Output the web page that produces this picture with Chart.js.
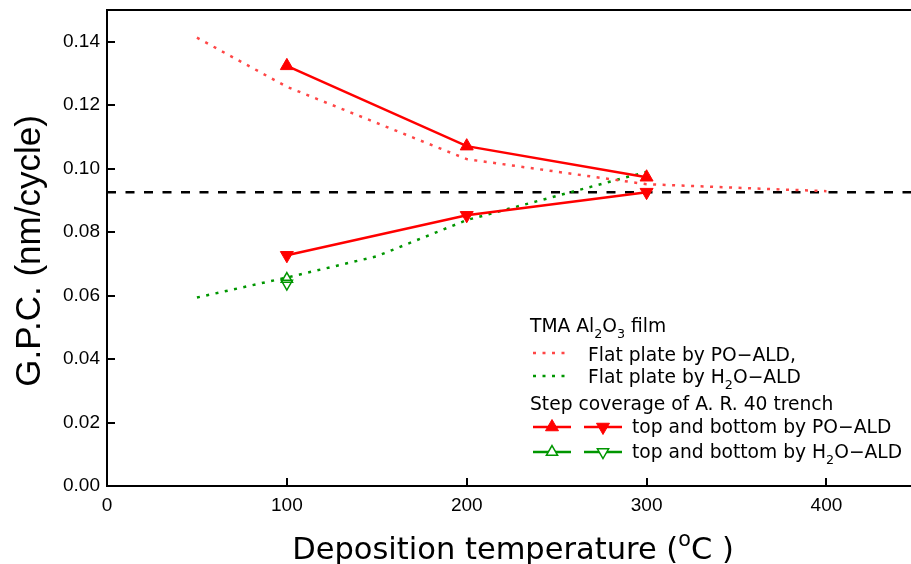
<!DOCTYPE html>
<html><head><meta charset="utf-8">
<script src="https://cdn.jsdelivr.net/npm/chart.js@4.4.1/dist/chart.umd.min.js"></script>
<style>html,body{margin:0;padding:0;background:#fff;} #wrap{width:911px;height:564px;position:relative}</style>
</head><body><div id="wrap"><canvas id="c" width="911" height="564"></canvas></div>
<script>
// ---- data ----
const xTickValues = [0, 100, 200, 300, 400];
const yTickValues = [0, 0.02, 0.04, 0.06, 0.08, 0.10, 0.12, 0.14];
const flatPO_T = [50, 100, 200, 300, 400];
const flatPO_G = [0.1413, 0.1258, 0.1030, 0.0951, 0.0929];
const flatH2O_T = [50, 100, 150, 200, 300];
const flatH2O_G = [0.0594, 0.0657, 0.0724, 0.0838, 0.0990];
const trenchT = [100, 200, 300];
const poTop = [0.1324, 0.1071, 0.0973];
const poBottom = [0.0727, 0.0853, 0.0926];
const h2oT = [100];
const h2oTop = [0.0652];
const h2oBottom = [0.0638];
const refT = [0, 447];
const refG = [0.0926, 0.0926];

const RED = 'rgb(255,0,0)';
const RED_DOT = 'rgb(255,70,70)';
const GREEN = 'rgb(0,150,0)';
const SANS = '"Liberation Sans", Arial, sans-serif';
const WIDE = '"DejaVu Sans", Verdana, sans-serif';

const pts = (xs, ys) => xs.map((x, i) => ({x, y: ys[i]}));

function rich(ctx, parts, x, y, size, family) {
  let cx = x;
  for (const [t, m] of parts) {
    const s = m ? size * 0.68 : size;
    ctx.font = `${s}px ${family}`;
    const dy = m === 'sub' ? size * 0.3 : (m === 'sup' ? -size * 0.42 : 0);
    ctx.fillText(t, cx, y + dy);
    cx += ctx.measureText(t).width;
  }
  return cx - x;
}
function richWidth(ctx, parts, size, family) {
  let w = 0;
  for (const [t, m] of parts) {
    const s = m ? size * 0.68 : size;
    ctx.font = `${s}px ${family}`;
    w += ctx.measureText(t).width;
  }
  return w;
}

const decor = {
  id: 'decor',
  afterDraw(chart) {
    const {ctx, chartArea: a, scales: {x, y}} = chart;
    ctx.save();
    ctx.strokeStyle = '#000';
    ctx.lineWidth = 2;
    // top frame line
    ctx.beginPath(); ctx.moveTo(a.left - 1, a.top); ctx.lineTo(a.right, a.top); ctx.stroke();
    // inside ticks
    ctx.beginPath();
    yTickValues.forEach(v => { const py = Math.round(y.getPixelForValue(v)); ctx.moveTo(a.left, py); ctx.lineTo(a.left + 8, py); });
    xTickValues.forEach(v => { const px = Math.round(x.getPixelForValue(v)); ctx.moveTo(px, a.bottom); ctx.lineTo(px, a.bottom - 8); });
    ctx.stroke();

    ctx.fillStyle = '#000';
    // y title
    ctx.save();
    ctx.translate(30, 251);
    ctx.rotate(-Math.PI / 2);
    ctx.textAlign = 'center'; ctx.textBaseline = 'middle';
    ctx.font = `35px ${SANS}`;
    ctx.fillText('G.P.C. (nm/cycle)', 0, 0);
    ctx.restore();

    // x title
    ctx.textAlign = 'left'; ctx.textBaseline = 'alphabetic';
    const xt = [['Deposition temperature (', null], ['o', 'sup'], ['C )', null]];
    const xs = 30.5;
    const xw = richWidth(ctx, xt, xs, WIDE);
    rich(ctx, xt, 513 - xw / 2, 559, xs, WIDE);

    // legend
    const L = 18.7;
    rich(ctx, [['TMA Al', null], ['2', 'sub'], ['O', null], ['3', 'sub'], [' film', null]], 530, 332, L, WIDE);
    rich(ctx, [['Flat plate by PO\u2212ALD,', null]], 588, 361, L, WIDE);
    rich(ctx, [['Flat plate by H', null], ['2', 'sub'], ['O\u2212ALD', null]], 588, 383, L, WIDE);
    rich(ctx, [['Step coverage of A. R. 40 trench', null]], 530, 410, L, WIDE);
    rich(ctx, [['top and bottom by PO\u2212ALD', null]], 632, 433, L, WIDE);
    rich(ctx, [['top and bottom by H', null], ['2', 'sub'], ['O\u2212ALD', null]], 632, 458, L, WIDE);

    // legend samples
    ctx.lineWidth = 2.5;
    ctx.setLineDash([3, 6.5]);
    ctx.strokeStyle = RED_DOT;
    ctx.beginPath(); ctx.moveTo(533, 353); ctx.lineTo(571, 353); ctx.stroke();
    ctx.strokeStyle = GREEN;
    ctx.beginPath(); ctx.moveTo(533, 376); ctx.lineTo(571, 376); ctx.stroke();
    ctx.setLineDash([]);
    const sample = (x0, yy, color, filled, rot, r) => {
      ctx.strokeStyle = color; ctx.lineWidth = 2.5;
      ctx.beginPath(); ctx.moveTo(x0, yy); ctx.lineTo(x0 + 38, yy); ctx.stroke();
      ctx.fillStyle = filled ? color : '#fff';
      ctx.lineWidth = filled ? 1 : 1.5;
      Chart.helpers.drawPoint(ctx, {pointStyle: 'triangle', radius: r, rotation: rot, borderWidth: ctx.lineWidth}, x0 + 19, yy);
    };
    sample(533, 427, RED, true, 0, 7.5);
    sample(584, 427, RED, true, 180, 7.5);
    sample(533, 452, GREEN, false, 0, 6.5);
    sample(584, 452, GREEN, false, 180, 6.5);
    ctx.restore();
  }
};

new Chart(document.getElementById('c'), {
  type: 'scatter',
  data: {
    datasets: [
      {data: pts(trenchT, poTop), showLine: true, borderColor: RED, backgroundColor: RED, borderWidth: 2.5,
       pointStyle: 'triangle', pointRadius: 7.5, pointRotation: 0, pointBorderWidth: 1, order: 1},
      {data: pts(trenchT, poBottom), showLine: true, borderColor: RED, backgroundColor: RED, borderWidth: 2.5,
       pointStyle: 'triangle', pointRadius: 7.5, pointRotation: 180, pointBorderWidth: 1, order: 2},
      {data: pts(h2oT, h2oTop), showLine: true, borderColor: GREEN, backgroundColor: 'rgba(255,255,255,0)', borderWidth: 2,
       pointStyle: 'triangle', pointRadius: 6.5, pointRotation: 0, pointBorderWidth: 1.5, order: 3},
      {data: pts(h2oT, h2oBottom), showLine: true, borderColor: GREEN, backgroundColor: 'rgba(255,255,255,0)', borderWidth: 2,
       pointStyle: 'triangle', pointRadius: 6.5, pointRotation: 180, pointBorderWidth: 1.5, order: 4},
      {data: pts(flatPO_T, flatPO_G), showLine: true, borderColor: RED_DOT, borderWidth: 2.5, borderDash: [3, 6.5],
       pointRadius: 0, order: 5},
      {data: pts(flatH2O_T, flatH2O_G), showLine: true, borderColor: GREEN, borderWidth: 2.5, borderDash: [3, 6.5],
       pointRadius: 0, order: 6},
      {data: pts(refT, refG), showLine: true, borderColor: '#000', borderWidth: 2.5, borderDash: [9, 9.5],
       pointRadius: 0, order: 7}
    ]
  },
  options: {
    responsive: false, animation: false, devicePixelRatio: 1,
    layout: {autoPadding: false, padding: {top: 10, right: 0, left: 0, bottom: 0}},
    plugins: {legend: {display: false}, tooltip: {enabled: false}},
    scales: {
      x: {
        type: 'linear', min: 0, max: 447,
        afterBuildTicks: s => { s.ticks = xTickValues.map(v => ({value: v})); },
        afterFit: s => { s.height = 78; s.paddingLeft = 0; s.paddingRight = 0; },
        grid: {display: false, drawTicks: false},
        border: {display: true, color: '#000', width: 2},
        ticks: {padding: 8, color: '#000', font: {family: SANS, size: 19}, maxRotation: 0, callback: v => String(v)}
      },
      y: {
        type: 'linear', min: 0, max: 0.15,
        afterBuildTicks: s => { s.ticks = yTickValues.map(v => ({value: v})); },
        afterFit: s => { s.width = 107; s.paddingTop = 0; s.paddingBottom = 0; },
        grid: {display: false, drawTicks: false},
        border: {display: true, color: '#000', width: 2},
        ticks: {padding: 7, color: '#000', font: {family: SANS, size: 19}, callback: v => v.toFixed(2)}
      }
    }
  },
  plugins: [decor]
});
</script></body></html>
